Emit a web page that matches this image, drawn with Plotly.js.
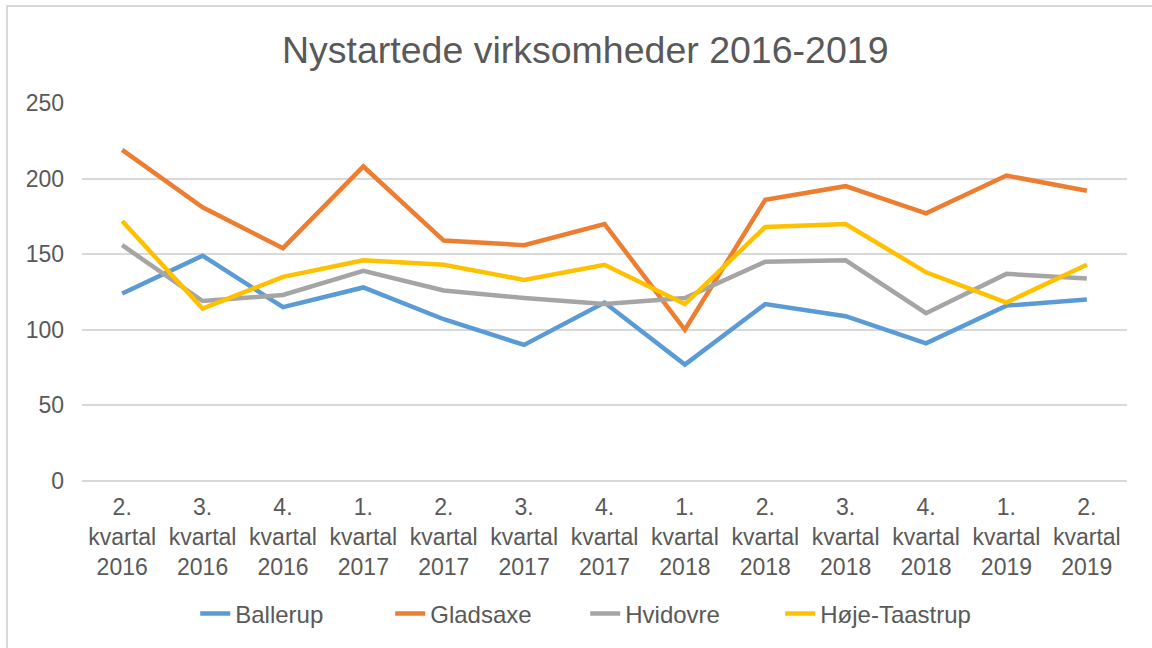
<!DOCTYPE html>
<html>
<head>
<meta charset="utf-8">
<script src="https://cdn.plot.ly/plotly-3.0.1.min.js"></script>
<style>
html,body{margin:0;padding:0;overflow:hidden;background:#fff;}
#chart{position:absolute;left:0;top:0;width:1152px;height:648px;}
#frame{position:absolute;left:6px;top:5px;width:1200px;height:700px;border:2px solid #d9d9d9;pointer-events:none;}
</style>
</head>
<body>
<div id="chart"></div>
<div id="frame"></div>
<script>
const categories = [
  "2.<br>kvartal<br>2016","3.<br>kvartal<br>2016","4.<br>kvartal<br>2016",
  "1.<br>kvartal<br>2017","2.<br>kvartal<br>2017","3.<br>kvartal<br>2017","4.<br>kvartal<br>2017",
  "1.<br>kvartal<br>2018","2.<br>kvartal<br>2018","3.<br>kvartal<br>2018","4.<br>kvartal<br>2018",
  "1.<br>kvartal<br>2019","2.<br>kvartal<br>2019"
];
const ballerup     = [124, 149, 115, 128, 107, 90, 118, 77, 117, 109, 91, 116, 120];
const gladsaxe     = [219, 181, 154, 208, 159, 156, 170, 100, 186, 195, 177, 202, 192];
const hvidovre     = [156, 119, 123, 139, 126, 121, 117, 121, 145, 146, 111, 137, 134];
const hojeTaastrup = [172, 114, 135, 146, 143, 133, 143, 117, 168, 170, 138, 118, 143];
const seriesNames  = ["Ballerup", "Gladsaxe", "Hvidovre", "Høje-Taastrup"];
const seriesColors = ["#5B9BD5", "#ED7D31", "#A5A5A5", "#FFC000"];
const yTicks = [0, 50, 100, 150, 200, 250];

const allSeries = [ballerup, gladsaxe, hvidovre, hojeTaastrup];
const traces = allSeries.map((vals, i) => ({
  type: 'scatter',
  mode: 'lines',
  name: seriesNames[i],
  x: categories,
  y: vals,
  line: {color: seriesColors[i], width: 4.5},
  hoverinfo: 'x+y+name'
}));

const txt = '#595959';
const fam = '"Liberation Sans", Arial, sans-serif';
const layout = {
  width: 1152, height: 648,
  paper_bgcolor: '#fff', plot_bgcolor: '#fff',
  margin: {l: 82, r: 25, t: 103, b: 167},
  font: {family: fam, color: txt, size: 23},
  title: {
    text: 'Nystartede virksomheder 2016-2019',
    font: {family: fam, size: 37.5, color: txt},
    xref: 'container', x: 0.508, xanchor: 'center',
    yref: 'container', y: 1 - 50/648, yanchor: 'middle'
  },
  xaxis: {
    type: 'category',
    range: [-0.5, 12.5],
    showgrid: false, showline: false, zeroline: false,
    ticks: '',
    ticklabelstandoff: 10,
    tickfont: {family: fam, size: 23, color: txt},
    tickangle: 0,
    automargin: false
  },
  yaxis: {
    range: [0, 250],
    tickvals: yTicks,
    ticktext: yTicks.map(String),
    showgrid: true, gridcolor: '#D9D9D9', gridwidth: 1.5,
    zeroline: true, zerolinecolor: '#D9D9D9', zerolinewidth: 1.5,
    showline: false, ticks: '',
    ticklabelstandoff: 17,
    tickfont: {family: fam, size: 23, color: txt},
    automargin: false
  },
  showlegend: true,
  legend: {
    orientation: 'h',
    xref: 'container', x: 0.508, xanchor: 'center',
    yref: 'container', y: (648 - 614)/648, yanchor: 'middle',
    font: {family: fam, size: 24, color: txt},
    entrywidth: 150,
    traceorder: 'normal'
  }
};

Plotly.newPlot('chart', traces, layout, {displayModeBar: false, staticPlot: false});
</script>
</body>
</html>
